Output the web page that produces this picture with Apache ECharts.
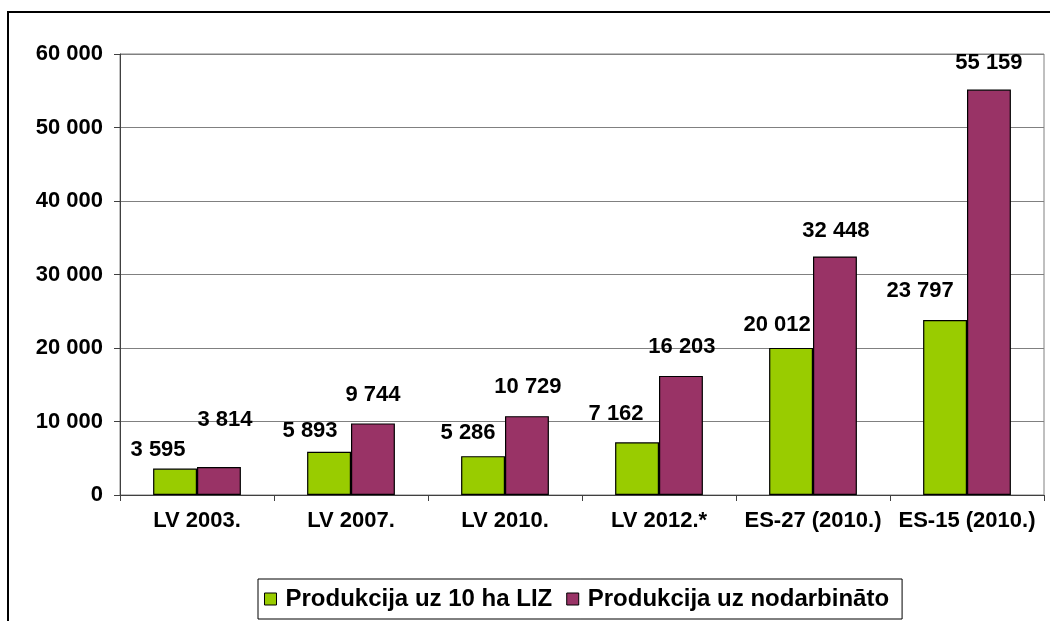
<!DOCTYPE html>
<html>
<head>
<meta charset="utf-8">
<script src="https://cdn.jsdelivr.net/npm/echarts@6/dist/echarts.min.js"></script>
<style>
  html, body { margin: 0; padding: 0; background: #fff; }
  #chart { width: 1050px; height: 621px; }
</style>
</head>
<body>
<div id="chart"></div>
<script>
const categories = ['LV 2003.', 'LV 2007.', 'LV 2010.', 'LV 2012.*', 'ES-27 (2010.)', 'ES-15 (2010.)']
const seriesNames = ['Produkcija uz 10 ha LIZ', 'Produkcija uz nodarbināto']
const perLand = [3595, 5893, 5286, 7162, 20012, 23797]
const perWorker = [3814, 9744, 10729, 16203, 32448, 55159]
const yTicks = [0, 10000, 20000, 30000, 40000, 50000, 60000]

// label nudges as placed by hand in the original (pixels)
const landLabelShift = [[-17, -3], [-19, -5], [-15, -7], [-21, -12], [-14, -7], [-25, -13]]
const workerLabelShift = [[6, -31], [0, -12], [1, -13], [1, -13], [1, -10], [0, -11]]

const FONT = '"Liberation Sans", Arial, sans-serif'
const fmt = v => String(v).replace(/\B(?=(\d{3})+(?!\d))/g, ' ')

function buildSeries(name, values, shifts, color) {
  return {
    name,
    type: 'bar',
    barGap: '0%',
    barCategoryGap: '43%',
    itemStyle: { color, borderColor: '#000', borderWidth: 1.2 },
    data: values.map((v, i) => ({
      value: v,
      label: { offset: shifts[i] },
    })),
    label: {
      show: true,
      position: 'top',
      distance: 5,
      formatter: p => fmt(p.value),
      color: '#000',
      fontFamily: FONT,
      fontWeight: 'bold',
      fontSize: 22,
    },
  }
}

const chart = echarts.init(document.getElementById('chart'))
chart.setOption({
  animation: false,
  backgroundColor: '#fff',
  graphic: [{
    type: 'rect',
    shape: { x: 8, y: 12, width: 1200, height: 800 },
    style: { fill: 'none', stroke: '#000', lineWidth: 2 },
    silent: true,
  }],
  grid: {
    left: 120,
    right: 6,
    top: 54,
    bottom: 126,
    show: true,
    borderColor: '#808080',
    borderWidth: 1,
  },
  legend: {
    bottom: 2,
    left: 258,
    itemWidth: 12,
    itemHeight: 12,
    itemGap: 14,
    padding: [8, 13, 8, 6],
    borderColor: '#000',
    borderWidth: 1,
    icon: 'rect',
    itemStyle: { borderColor: '#000', borderWidth: 1 },
    textStyle: {
      fontFamily: FONT,
      fontWeight: 'bold',
      fontSize: 24,
      color: '#000',
      padding: [0, 0, 0, 4],
    },
    data: seriesNames,
  },
  xAxis: {
    type: 'category',
    data: categories,
    axisLine: { lineStyle: { color: '#404040', width: 1 } },
    axisTick: { show: true, length: 6, lineStyle: { color: '#404040' } },
    axisLabel: {
      interval: 0,
      margin: 15,
      color: '#000',
      fontFamily: FONT,
      fontWeight: 'bold',
      fontSize: 22,
    },
  },
  yAxis: {
    type: 'value',
    min: yTicks[0],
    max: yTicks[yTicks.length - 1],
    interval: yTicks[1] - yTicks[0],
    axisLine: { show: true, lineStyle: { color: '#404040', width: 1 } },
    axisTick: { show: true, length: 6, lineStyle: { color: '#404040' } },
    splitLine: { lineStyle: { color: '#808080', width: 1 } },
    axisLabel: {
      margin: 17,
      color: '#000',
      fontFamily: FONT,
      fontWeight: 'bold',
      fontSize: 22,
      formatter: v => fmt(v),
    },
  },
  series: [
    buildSeries(seriesNames[0], perLand, landLabelShift, '#99CC00'),
    buildSeries(seriesNames[1], perWorker, workerLabelShift, '#993366'),
  ],
})
</script>
</body>
</html>
